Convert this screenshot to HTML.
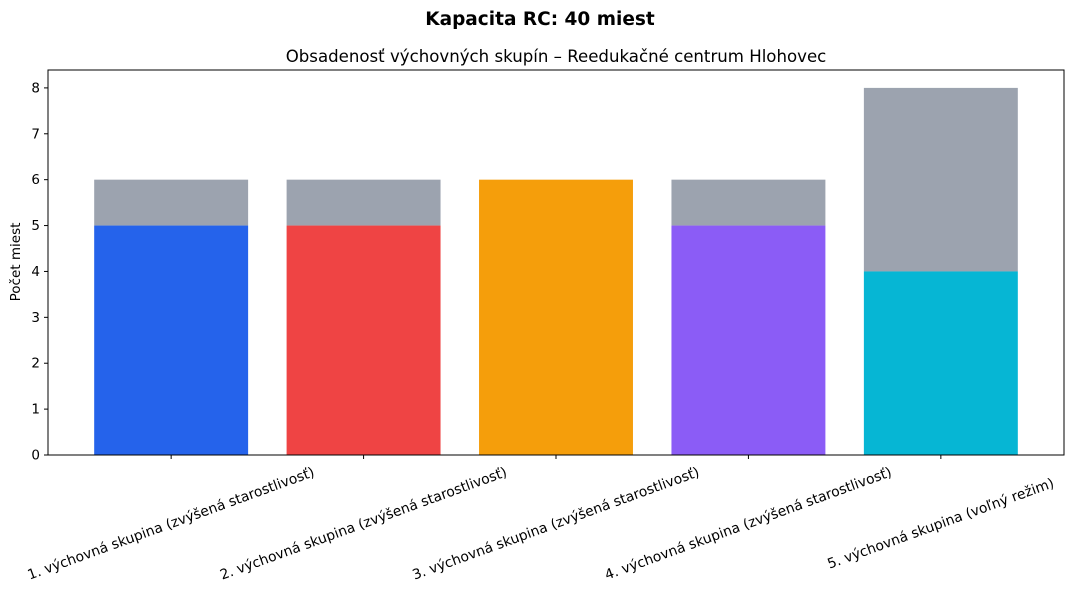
<!DOCTYPE html>
<html><head><meta charset="utf-8"><style>
body{margin:0;background:#fff}
svg{display:block;font-family:"DejaVu Sans","Liberation Sans",sans-serif}
</style></head><body>
<svg id="chart" width="1074" height="593" xmlns="http://www.w3.org/2000/svg">
<text x="540" y="25" text-anchor="middle" font-size="18.5" font-weight="bold">Kapacita RC: 40 miest</text>
<text x="556" y="62" text-anchor="middle" font-size="16.6">Obsadenosť výchovných skupín – Reedukačné centrum Hlohovec</text>
<text transform="translate(20,262) rotate(-90)" text-anchor="middle" font-size="13.5">Počet miest</text>
<g id="marks"></g>
<rect x="48" y="70" width="1016" height="385" fill="none" stroke="#000" stroke-width="1"/>
</svg>
<script>
const categories = ["1. výchovná skupina (zvýšená starostlivosť)","2. výchovná skupina (zvýšená starostlivosť)","3. výchovná skupina (zvýšená starostlivosť)","4. výchovná skupina (zvýšená starostlivosť)","5. výchovná skupina (voľný režim)"];
const occupied = [5,5,6,5,4];
const capacity = [6,6,6,6,8];
const colors = ["#2563eb","#ef4444","#f59e0b","#8b5cf6","#06b6d4"];
const yTicks = [0,1,2,3,4,5,6,7,8];

const NS="http://www.w3.org/2000/svg";
const g=document.getElementById('marks');
const L=48,R=1064,T=70,B=455;
const xmin=-0.64,xmax=4.64,ymin=0,ymax=8.39;
const x=v=>L+(v-xmin)/(xmax-xmin)*(R-L);
const y=v=>B-(v-ymin)/(ymax-ymin)*(B-T);
function mk(t,a){const e=document.createElementNS(NS,t);for(const k in a)e.setAttribute(k,a[k]);g.appendChild(e);return e;}
const bw=0.8;
categories.forEach((c,i)=>{
  const free=mk('rect',{x:x(i-bw/2),y:y(capacity[i]),width:x(i+bw/2)-x(i-bw/2),height:y(occupied[i])-y(capacity[i]),fill:"#9ca3af"});
  
  
  const b=mk('rect',{x:x(i-bw/2),y:y(occupied[i]),width:x(i+bw/2)-x(i-bw/2),height:y(0)-y(occupied[i]),fill:colors[i]});
  
  
  const tk=mk('line',{x1:x(i),x2:x(i),y1:B,y2:B+4,stroke:"#000"});
  
  
  const cx=x(i),cy=524;
  const t=mk('text',{x:cx,y:cy,"text-anchor":"middle","dominant-baseline":"middle","font-size":"13.9",transform:`rotate(-20 ${cx} ${cy})`});
  t.textContent=c;
  
  
});
yTicks.forEach(v=>{
  const tk=mk('line',{x1:L-4,x2:L,y1:y(v),y2:y(v),stroke:"#000"});
  
  
  const t=mk('text',{x:L-8,y:y(v)+4.5,"text-anchor":"end","font-size":"13.5"});
  t.textContent=v;
  
  
});
</script>
</body></html>
